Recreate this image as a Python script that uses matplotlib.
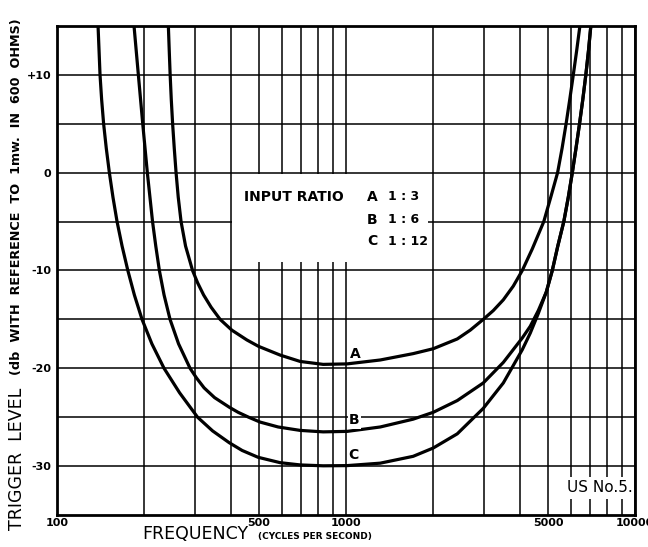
import numpy as np
import matplotlib.pyplot as plt
from matplotlib.patches import Rectangle

# curve A (input ratio 1:3), frequency in c/s and trigger level in db
freq_a = [243.3, 245.0, 246.8, 249.0, 251.7, 255.0, 258.7, 263.2, 269.2, 279.0, 295.0, 307.0, 322.1,
          341.9, 367.4, 403.3, 454.5, 498.4, 592.6, 694.9, 834.6, 1010, 1315, 1709, 2005, 2428, 2692,
          2986, 3234, 3503, 3792, 4074, 4411, 4835, 5112, 5397, 5594, 5775, 5947, 6116, 6284, 6446]
db_a = [15, 12.5, 10, 7.5, 5, 2.5, 0, -2.5, -5, -7.5, -10, -11.25, -12.5,
        -13.75, -15, -16.1, -17.1, -17.75, -18.65, -19.3, -19.6, -19.55, -19.15, -18.5, -18.0, -17.0, -16.1,
        -15.0, -14.1, -13.0, -11.6, -10.0, -7.8, -5.0, -2.5, 0, 2.5, 5, 7.5, 10, 12.5, 15]

# curve B (input ratio 1:6)
freq_b = [185.1, 191.6, 198.4, 205.8, 214.5, 220.1, 226.5, 235.1, 246.6, 263.9, 289.2, 304.6, 323.4,
          351.6, 396.2, 424.0, 461.0, 505.2, 583.2, 694.9, 834.6, 1010, 1315, 1709, 2005, 2428, 2986,
          3503, 4074, 4342, 4628, 4933, 5174, 5406, 5671, 5878, 6068, 6249, 6427, 6598, 6758, 6904, 7032]
db_b = [15, 10, 5, 0, -5, -7.5, -10, -12.5, -15, -17.5, -20, -21, -22,
        -23, -24, -24.5, -25, -25.5, -26, -26.35, -26.5, -26.45, -26.0, -25.2, -24.5, -23.3, -21.5,
        -19.4, -16.9, -15.7, -14.1, -12.2, -10, -7.5, -5, -2.5, 0, 2.5, 5, 7.5, 10, 12.5, 15]

# curve C (input ratio 1:12)
freq_c = [139.0, 140.1, 141.2, 143.0, 145.3, 148.4, 152.1, 156.5, 161.7, 168.3, 176.2, 185.6, 197.3,
          213.4, 235.1, 266.0, 307.0, 346.0, 394.7, 437.7, 497.2, 592.6, 694.9, 834.6, 1010, 1315, 1709,
          2005, 2428, 2986, 3503, 4074, 4342, 4628, 4933, 5174, 5406, 5671, 5878, 6068, 6249, 6427,
          6598, 6758, 6904, 7032]
db_c = [15, 12.5, 10, 7.5, 5, 2.5, 0, -2.5, -5, -7.5, -10, -12.5, -15,
        -17.5, -20, -22.5, -25, -26.4, -27.6, -28.4, -29.1, -29.65, -29.88, -29.97, -29.95, -29.7, -29.0,
        -28.15, -26.7, -24.1, -21.5, -18.1, -16.4, -14.4, -12.2, -10, -7.5, -5, -2.5, 0, 2.5, 5,
        7.5, 10, 12.5, 15]

major_x = [100, 500, 1000, 5000, 10000]
major_x_labels = ['100', '500', '1000', '5000', '10000']
minor_x = [200, 300, 400, 600, 700, 800, 900, 2000, 3000, 4000, 6000, 7000, 8000, 9000]
major_y = [-30, -20, -10, 0, 10]
major_y_labels = ['-30', '-20', '-10', '0', '+10']
minor_y = [-25, -15, -5, 5]

fig = plt.figure(figsize=(6.48, 5.47), dpi=100)
ax = fig.add_axes([0.0875, 0.0585, 0.8925, 0.894])

ax.set_xscale('log')
ax.set_xlim(100, 10000)
ax.set_ylim(-35, 15)

ax.set_xticks(major_x)
ax.set_xticklabels(major_x_labels, fontsize=8, fontweight='bold')
ax.set_xticks(minor_x, minor=True)
ax.set_xticklabels([], minor=True)
ax.set_yticks(major_y)
ax.set_yticklabels(major_y_labels, fontsize=8, fontweight='bold')
ax.set_yticks(minor_y, minor=True)
ax.tick_params(which='both', length=0)
ax.tick_params(axis='x', pad=2)
ax.tick_params(axis='y', pad=4)
ax.grid(which='both', color='black', lw=1.1)

for s in ax.spines.values():
    s.set_linewidth(2)

# white panels that cover the grid behind the notes
ax.add_patch(Rectangle((404, -9.1), 1930 - 404, 8.95, facecolor='white', edgecolor='none', zorder=2))
ax.add_patch(Rectangle((5060, -33.4), 9950 - 5060, 2.3, facecolor='white', edgecolor='none', zorder=2))

ax.plot(freq_a, db_a, color='black', lw=2.3, zorder=3, solid_joinstyle='round')
ax.plot(freq_b, db_b, color='black', lw=2.3, zorder=3, solid_joinstyle='round')
ax.plot(freq_c, db_c, color='black', lw=2.3, zorder=3, solid_joinstyle='round')

ax.text(1080, -18.5, 'A', fontsize=10, fontweight='bold', ha='center', va='center', zorder=4)
ax.text(1070, -25.3, 'B', fontsize=10, fontweight='bold', ha='center', va='center', zorder=4,
        bbox=dict(facecolor='white', edgecolor='none', pad=1))
ax.text(1060, -28.9, 'C', fontsize=10, fontweight='bold', ha='center', va='center', zorder=4)

ax.text(445, -2.45, 'INPUT RATIO', fontsize=10, fontweight='bold', va='center', zorder=4)
for lab, r, yy in [('A', '3', -2.45), ('B', '6', -4.8), ('C', '12', -7.0)]:
    ax.text(1233, yy, lab, fontsize=10, fontweight='bold', ha='center', va='center', zorder=4)
    ax.text(1400, yy, '1 : ' + r, fontsize=9, fontweight='bold', ha='left', va='center', zorder=4)

ax.text(9850, -32.2, 'US No.5.', fontsize=11, ha='right', va='center', zorder=4)

fig.text(142 / 648, 0.0146, 'FREQUENCY', fontsize=12.5, va='baseline')
fig.text(258 / 648, 0.0146, '(CYCLES PER SECOND)', fontsize=6.5, fontweight='bold', va='baseline')

fig.text(0.026, 0.031, 'TRIGGER  LEVEL', fontsize=12.5, rotation=90, ha='center', va='bottom')
fig.text(0.026, 0.314, '(db  WITH  REFERENCE  TO  1mw.  IN  600  OHMS)', fontsize=9.2,
         fontweight='bold', rotation=90, ha='center', va='bottom')

fig.savefig('out.png', dpi=100)
